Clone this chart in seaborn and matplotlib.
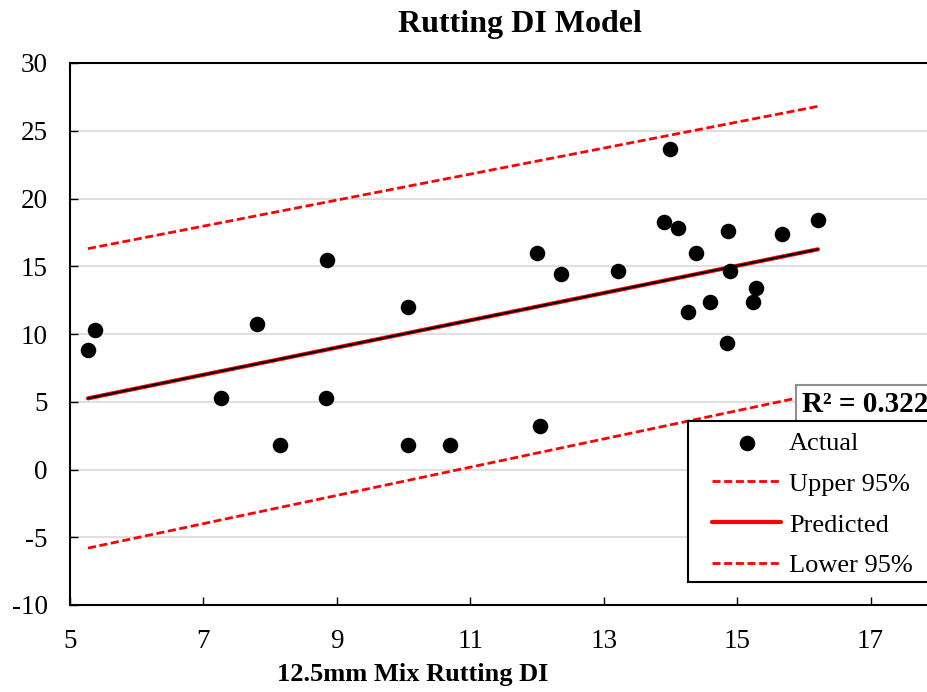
import matplotlib
matplotlib.use("Agg")
import matplotlib.pyplot as plt
import matplotlib.patches as mpatches
import seaborn as sns
import pandas as pd

# Valores (Actual)
mix_di = [5.27, 5.38, 7.27, 7.80, 8.15, 8.84, 8.85, 10.07, 10.07, 10.70,
          12.00, 12.04, 12.36, 13.22, 13.91, 14.00, 14.11, 14.27, 14.38,
          14.60, 14.85, 14.87, 14.90, 15.24, 15.28, 15.67, 16.21]
rutting_di = [8.8, 10.3, 5.25, 10.77, 1.8, 5.25, 15.45, 12.0, 1.8, 1.8,
              15.99, 3.18, 14.4, 14.63, 18.23, 23.63, 17.83, 11.6, 15.99,
              12.37, 9.34, 17.61, 14.63, 12.37, 13.4, 17.37, 18.45]

# Linhas do modelo (extremos)
line_x = [5.27, 16.21]
predicted = [5.25, 16.25]
upper_95 = [16.3, 26.8]
lower_95 = [-5.8, 5.6]

r2_text = "R² = 0.322"

sns.set_style("white")
plt.rcParams["font.family"] = ["Liberation Serif", "DejaVu Serif"]
plt.rcParams["axes.unicode_minus"] = False
plt.rcParams["text.color"] = "black"
plt.rcParams["axes.labelcolor"] = "black"

W, H = 928, 692
fig = plt.figure(figsize=(W / 100, H / 100), dpi=100)
# eixo maior que a figura: o lado direito fica cortado como no original
ax = fig.add_axes([70 / W, (H - 605) / H, (1004 - 70) / W, (605 - 63) / H])

pts = pd.DataFrame({"x": mix_di, "y": rutting_di})
lines = pd.DataFrame({"x": line_x, "pred": predicted, "up": upper_95, "low": lower_95})
dash = (0, (2.9, 1.3))

sns.scatterplot(data=pts, x="x", y="y", ax=ax, color="black", s=125,
                edgecolor="black", linewidth=0, label="Actual", zorder=5)
sns.lineplot(data=lines, x="x", y="up", ax=ax, color="red", linewidth=2,
             linestyle=dash, label="Upper 95%", zorder=3)
sns.lineplot(data=lines, x="x", y="pred", ax=ax, color="red", linewidth=3,
             label="Predicted", zorder=3)
sns.lineplot(data=lines, x="x", y="low", ax=ax, color="red", linewidth=2,
             linestyle=dash, label="Lower 95%", zorder=3)
# linha de tendência preta sobre a prevista
sns.lineplot(data=lines, x="x", y="pred", ax=ax, color="black", linewidth=1.5,
             label="_nolegend_", zorder=4)

ax.set_xlim(5, 19)
ax.set_ylim(-10, 30)
ax.set_xticks(range(5, 19, 2))
ax.set_yticks(range(-10, 31, 5))
ax.yaxis.grid(True, color="#d9d9d9", linewidth=1.2)
ax.xaxis.grid(False)
ax.spines["right"].set_visible(False)
for side in ["left", "bottom", "top"]:
    ax.spines[side].set_color("black")
    ax.spines[side].set_linewidth(1.5)
ax.tick_params(axis="both", direction="in", length=6, width=1, colors="black",
               labelsize=19.5, left=True, bottom=True)
ax.tick_params(axis="x", pad=17)
ax.tick_params(axis="y", pad=16)

fig.text(520 / W, 1 - 32 / H, "Rutting DI Model", fontsize=23,
         fontweight="bold", ha="center", va="baseline")
ax.set_xlabel("12.5mm Mix Rutting DI", fontsize=19, fontweight="bold")
ax.xaxis.set_label_coords((413 - 70) / (1004 - 70), -(663 - 605) / (605 - 63))
ax.set_ylabel("")

fig.text(802 / W, 1 - 412 / H, r2_text, fontsize=21, fontweight="bold",
         va="baseline", ha="left", zorder=5,
         bbox=dict(boxstyle="square,pad=0.22", facecolor="white", edgecolor="#909090",
                   linewidth=1.5))

# moldura da legenda desenhada à parte (mais espaço à esquerda, como no Excel)
frame = mpatches.Rectangle((688 / W, 1 - 582 / H), (940 - 688) / W, (582 - 421) / H,
                           transform=fig.transFigure, facecolor="white",
                           edgecolor="black", linewidth=1.5, zorder=9)
fig.patches.append(frame)

handles, labels = ax.get_legend_handles_labels()
ax.get_legend().remove()
leg = fig.legend(handles, labels, loc="upper left",
                 bbox_to_anchor=(707 / W, 1 - 426 / H),
                 bbox_transform=fig.transFigure, fontsize=19, frameon=False,
                 handlelength=2.6, labelspacing=0.66, borderpad=0.2,
                 handletextpad=0.3, borderaxespad=0)
leg.set_zorder(10)

fig.savefig("out.png", dpi=100)
